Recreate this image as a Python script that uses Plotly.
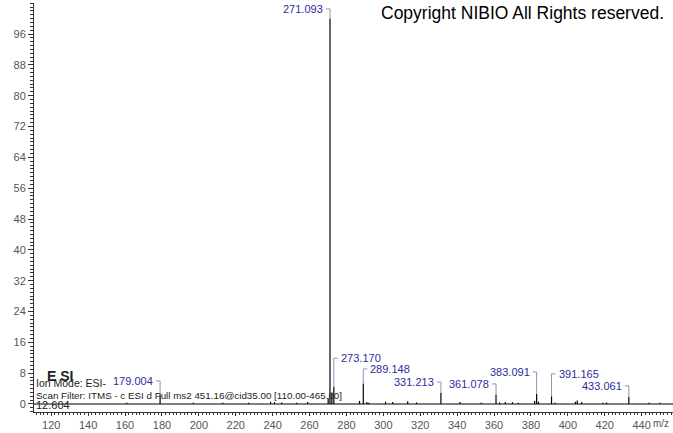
import plotly.graph_objects as go

# peaks: m/z and relative intensity (%)
mz = [161.0, 179.004, 197.0, 213.0, 227.0, 238.9, 241.0, 244.9, 253.0, 259.0,
      270.1, 271.093, 272.1, 273.170, 287.1, 289.148, 291.1, 292.1, 301.2, 305.1,
      313.2, 318.0, 331.213, 341.5, 353.0, 361.078, 363.0, 366.1, 370.0, 373.0,
      382.0, 383.091, 384.1, 391.165, 393.0, 404.1, 405.1, 407.5, 419.0, 421.0,
      433.061, 444.0, 450.0]
intensity = [0.3, 2.5, 0.3, 0.3, 0.3, 0.6, 0.5, 0.4, 0.3, 0.5,
             1.5, 100.0, 3.0, 4.5, 0.8, 5.3, 0.5, 0.3, 0.6, 0.5,
             0.7, 0.4, 2.9, 0.5, 0.3, 2.4, 0.4, 0.5, 0.5, 0.3,
             0.8, 2.6, 0.6, 2.0, 0.3, 0.6, 0.9, 0.5, 0.3, 0.4,
             1.8, 0.3, 0.3]

# labelled peaks: m/z, label height (%), side of the label
label_mz = [271.093, 179.004, 273.170, 289.148, 331.213, 361.078, 383.091, 391.165, 433.061]
label_y = [102.5, 6.0, 11.9, 9.1, 5.7, 5.2, 8.3, 7.8, 4.7]
label_side = ["l", "l", "r", "r", "l", "l", "l", "r", "l"]

ytickvals = list(range(0, 97, 8))
xtickvals = list(range(120, 441, 20))

W, H = 673, 433
ML, MR, MT, MB = 34, 0, 3, 21
XR = [110.66, 457.0]
YR = [-2.08, 104.05]
pxu = (W - ML - MR) / (XR[1] - XR[0])

FONT = "Liberation Sans, Arial, sans-serif"
LBL = "#2c2c9c"
CONN = "#8a94b8"
TXT = "#222"

xs, ys = [], []
for m, v in zip(mz, intensity):
    xs += [m, m, None]
    ys += [0, v, None]

fig = go.Figure(go.Scatter(x=xs, y=ys, mode="lines",
                           line=dict(color="black", width=1.2),
                           hoverinfo="skip", showlegend=False))

shapes = [dict(type="line", xref="paper", yref="y", x0=0, x1=1, y0=0, y1=0,
               line=dict(color="black", width=1.2))]
annotations = []
peak_top = dict(zip(mz, intensity))
for m, ly, side in zip(label_mz, label_y, label_side):
    top = peak_top[m]
    d = 4 / pxu
    if side == "l":
        path = f"M {m - d},{ly} L {m},{ly} L {m},{top}"
        tx, anchor = m - 5 / pxu, "right"
    else:
        path = f"M {m},{top} L {m},{ly} L {m + d},{ly}"
        tx, anchor = m + 5 / pxu, "left"
    shapes.append(dict(type="path", xref="x", yref="y", path=path,
                       line=dict(color=CONN, width=1)))
    annotations.append(dict(x=tx, y=ly, xref="x", yref="y", text=f"{m:.3f}",
                            showarrow=False, xanchor=anchor, yanchor="middle",
                            font=dict(family=FONT, size=11, color=LBL)))

x_txt = XR[0]
annotations += [
    dict(x=0.989, y=0.9756, xref="paper", yref="paper", text="Copyright NIBIO All Rights reserved.",
         showarrow=False, xanchor="right", yanchor="middle",
         font=dict(family=FONT, size=17.5, color="black")),
    dict(x=0.997, y=-0.029, xref="paper", yref="paper", text="m/z", showarrow=False,
         xanchor="right", yanchor="middle", font=dict(family=FONT, size=10, color="#555")),
    dict(x=XR[0] + 11 / pxu, y=7.3, xref="x", yref="y", text="<b>E SI</b>", showarrow=False,
         xanchor="left", yanchor="middle", font=dict(family=FONT, size=14, color=TXT)),
    dict(x=x_txt, y=5.5, xref="x", yref="y", text="Ion Mode: ESI-", showarrow=False,
         xanchor="left", yanchor="middle", font=dict(family=FONT, size=10.5, color=TXT)),
    dict(x=x_txt, y=2.3, xref="x", yref="y",
         text="Scan Filter: ITMS - c ESI d Full ms2 451.16@cid35.00 [110.00-465.00]",
         showarrow=False, xanchor="left", yanchor="middle",
         font=dict(family=FONT, size=9.8, color=TXT)),
    dict(x=x_txt, y=-0.3, xref="x", yref="y", text="12.604", showarrow=False,
         xanchor="left", yanchor="middle", font=dict(family=FONT, size=11, color=TXT)),
]

fig.update_layout(
    width=W, height=H,
    margin=dict(l=ML, r=MR, t=MT, b=MB),
    paper_bgcolor="white", plot_bgcolor="white",
    font=dict(family=FONT, size=11, color="#555"),
    xaxis=dict(range=XR, tickvals=xtickvals, ticks="outside", ticklen=3,
               tickcolor="#333", showline=True, linecolor="#333", linewidth=1,
               showgrid=False, zeroline=False,
               minor=dict(dtick=2, tick0=0, ticks="outside", ticklen=2, tickcolor="#333")),
    yaxis=dict(range=YR, tickvals=ytickvals, ticks="outside", ticklen=5,
               tickcolor="#333", showline=True, linecolor="#333", linewidth=1,
               showgrid=False, zeroline=False,
               minor=dict(dtick=1, tick0=0, ticks="outside", ticklen=3, tickcolor="#333")),
    shapes=shapes,
    annotations=annotations,
)

# drop the browser's default page margin so the figure fills the window
fig.write_html("out.html", config={"displayModeBar": False},
               post_script="document.body.style.margin='0';document.body.style.overflow='hidden';")
